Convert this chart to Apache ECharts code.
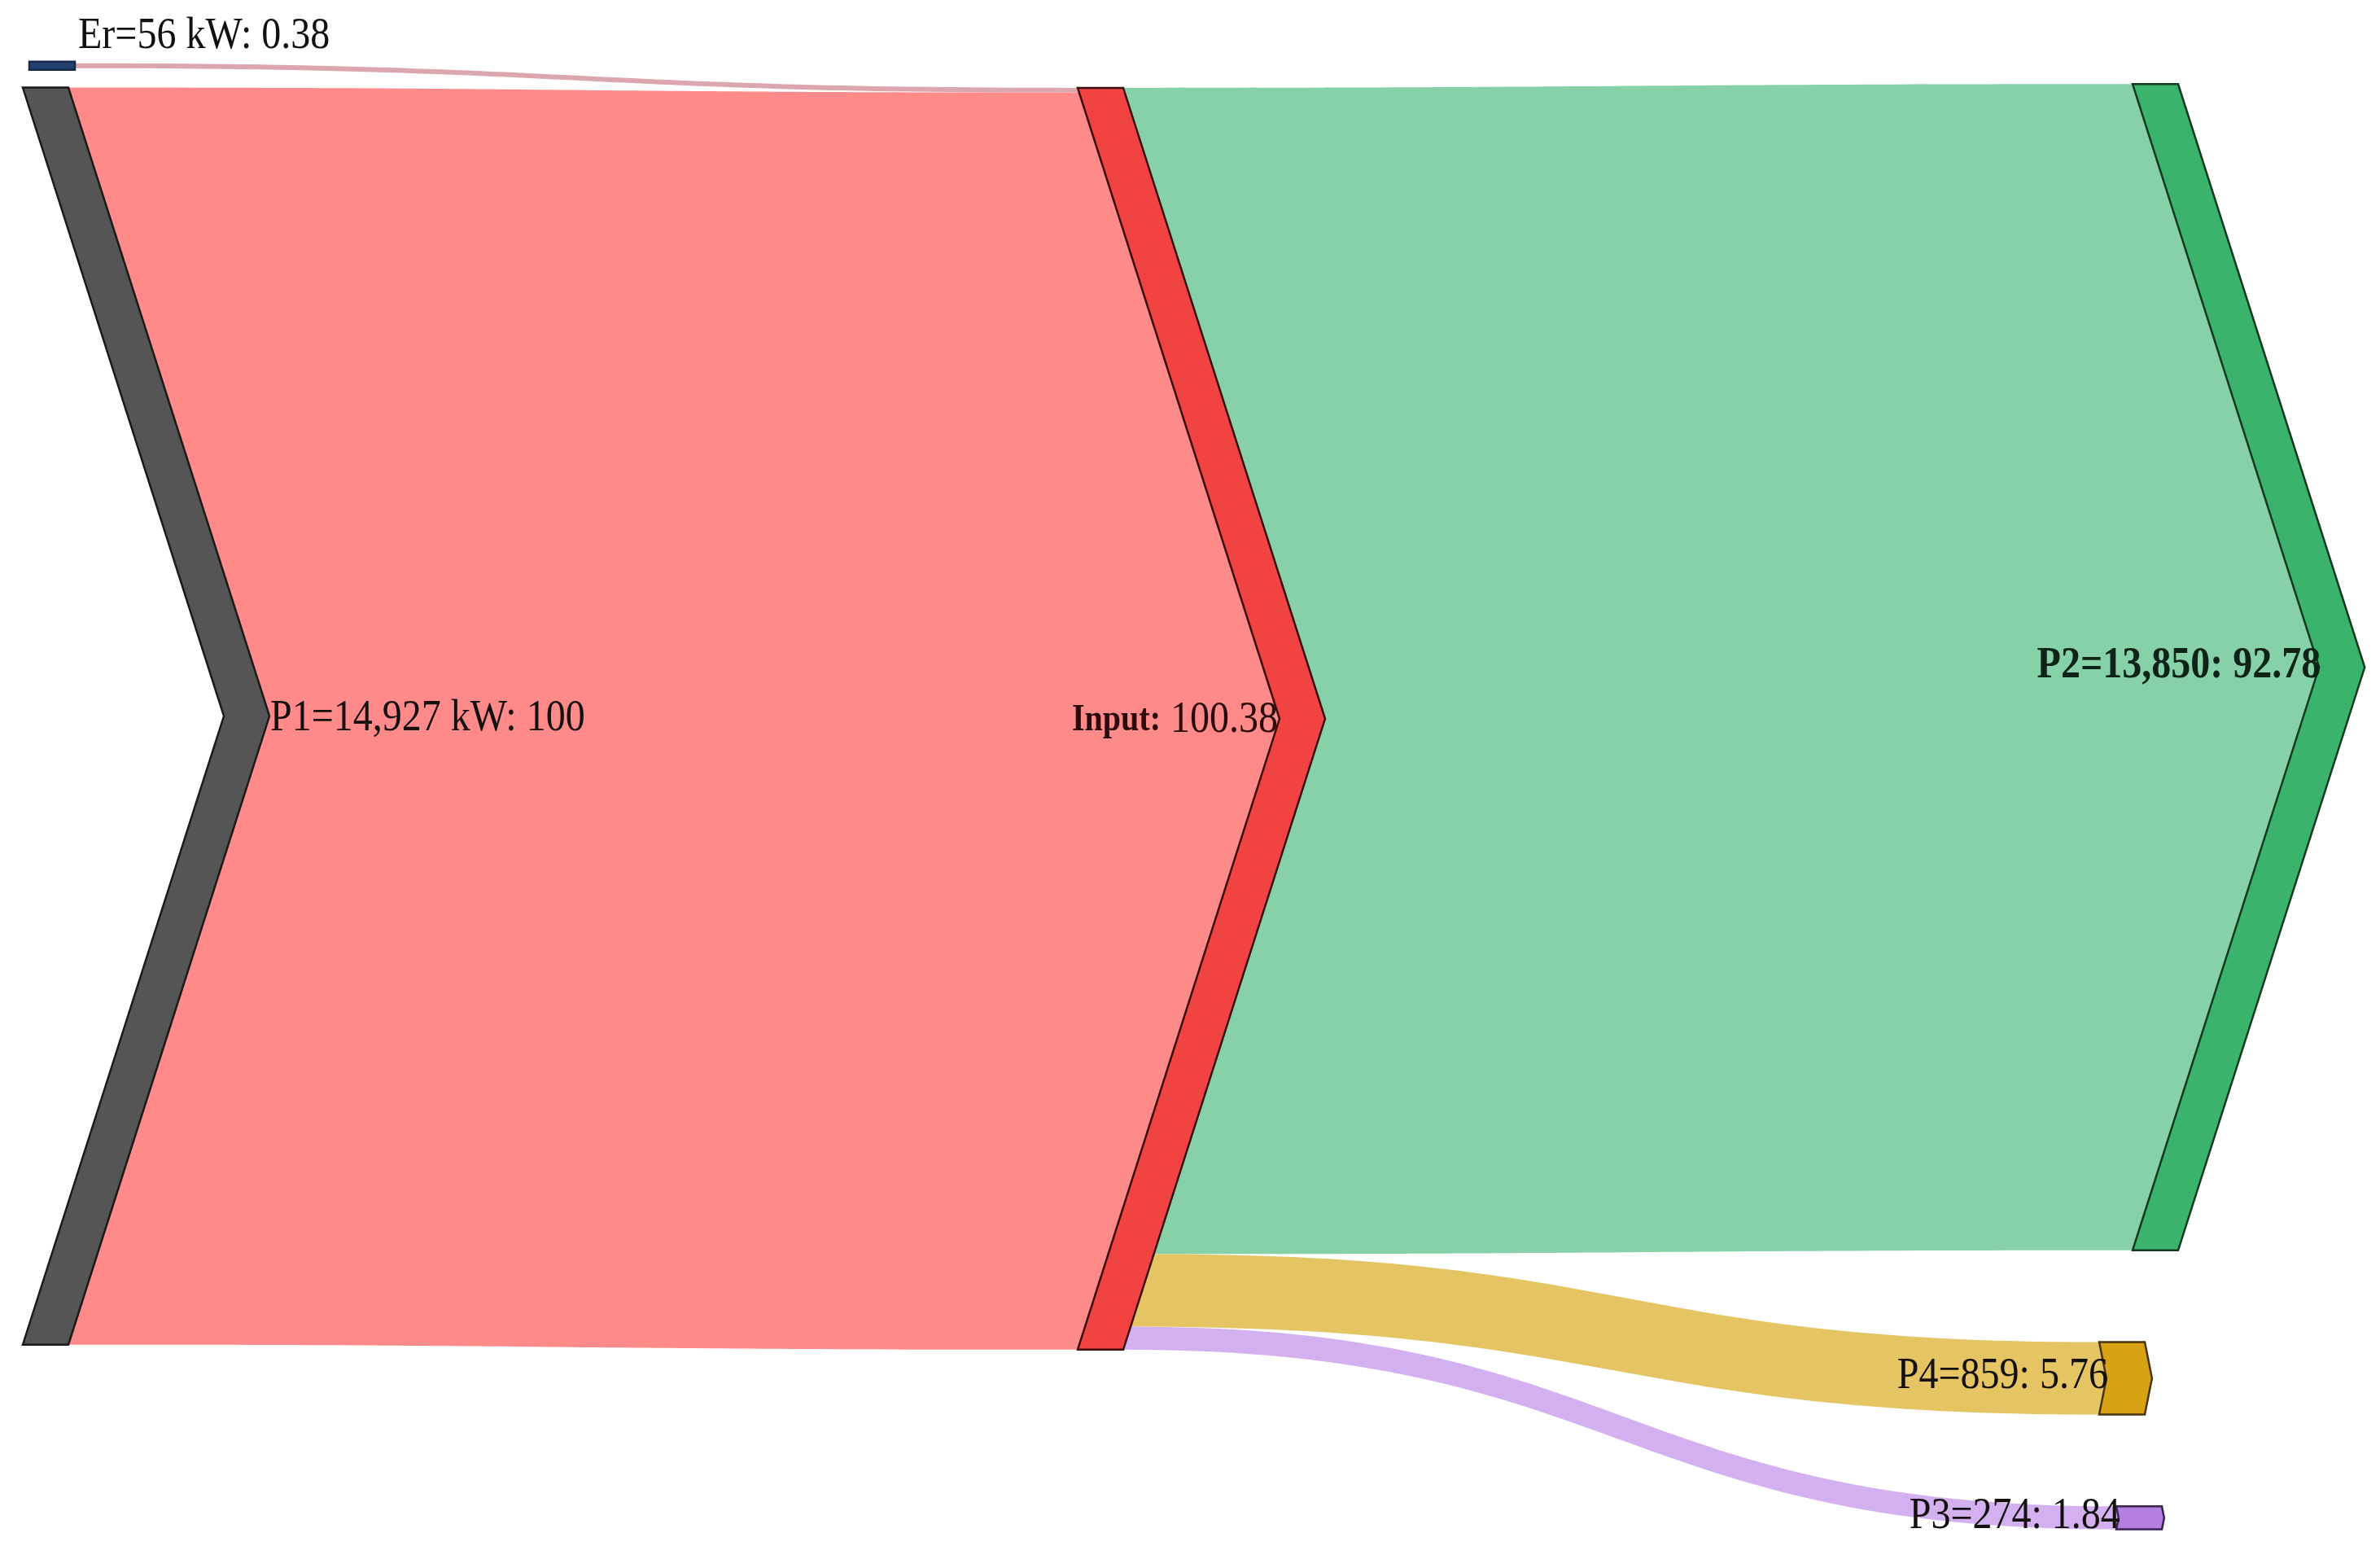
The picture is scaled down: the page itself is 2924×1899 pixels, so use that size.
<!DOCTYPE html>
<html>
<head>
<meta charset="utf-8">
<script src="https://cdn.jsdelivr.net/npm/echarts@6/dist/echarts.min.js"></script>
<style>
  html, body { margin: 0; background: #fff; }
  #chart { width: 2924px; height: 1899px; }
</style>
</head>
<body>
<div id="chart"></div>
<script>
// flows (percent of P1)
const nodeNames = ['Er', 'P1', 'Input', 'P2', 'P4', 'P3']
const nodeTitles = ['Er=56 kW', 'P1=14,927 kW', 'Input', 'P2=13,850', 'P4=859', 'P3=274']
const nodeColumns = [0, 0, 1, 2, 2, 2]
const linkSources = ['Er', 'P1', 'Input', 'Input', 'Input']
const linkTargets = ['Input', 'Input', 'P2', 'P4', 'P3']
const linkValues = [0.38, 100, 92.78, 5.76, 1.84]

// look
const nodeColors = { Er: '#23426f', P1: '#555555', Input: '#f24343', P2: '#3bb36d', P4: '#d8a215', P3: '#b47ee0' }
const nodeStrokes = { Er: '#15284a', P1: '#1a1a1a', Input: '#3a0c0c', P2: '#123a20', P4: '#4a3410', P3: '#3a2250' }
const linkColors = ['#dca6ae', '#fe8a8a', '#87d1a8', '#e4c463', '#d3b1f1']
const depthFactor = { Er: 0, P4: 0.1, P3: 0.1 }
const nodeShift = { Er: 8, P4: -41, P3: -20 }
const colStart = [-1.95, 0, -0.3]
const colGap = [1.55, 0, 7.3]
const NODE_W = 56
const FONT = '"Liberation Serif", "Times New Roman", serif'
const TEXT_STRETCH = 1.14

// layout in flow units
const nodeValue = {}
nodeNames.forEach(function (n) {
    let inV = 0, outV = 0
    linkValues.forEach(function (v, i) {
        if (linkTargets[i] == n) inV += v
        if (linkSources[i] == n) outV += v
    })
    nodeValue[n] = Math.round(Math.max(inV, outV) * 100) / 100
})
const nodeTop = {}
const cursor = colStart.slice()
nodeNames.forEach(function (n, i) {
    const c = nodeColumns[i]
    nodeTop[n] = cursor[c]
    cursor[c] += nodeValue[n] + colGap[c]
})
const outOff = {}, inOff = {}
nodeNames.forEach(function (n) { outOff[n] = 0; inOff[n] = 0 })
const linkRows = linkValues.map(function (v, i) {
    const s = nodeNames.indexOf(linkSources[i]), t = nodeNames.indexOf(linkTargets[i])
    const row = [nodeColumns[s], nodeTop[nodeNames[s]] + outOff[nodeNames[s]], nodeColumns[t], nodeTop[nodeNames[t]] + inOff[nodeNames[t]], v, s, t]
    outOff[nodeNames[s]] += v
    inOff[nodeNames[t]] += v
    return row
})
const nodeRows = nodeNames.map(function (n, i) { return [nodeColumns[i], nodeTop[n], nodeValue[n], i] })

function geom(api, idx) {
    const n = nodeNames[idx]
    const c = nodeColumns[idx]
    const p0 = api.coord([c, nodeTop[n]])
    const p1 = api.coord([c, nodeTop[n] + nodeValue[n]])
    const h = p1[1] - p0[1]
    const f = depthFactor[n] !== undefined ? depthFactor[n] : 0.16
    return { x: p0[0] + (nodeShift[n] || 0), t: p0[1], b: p1[1], m: (p0[1] + p1[1]) / 2, h: h, d: h * f }
}
function edgeX(g, y, right) {
    const k = g.h > 0 ? Math.max(0, 1 - Math.abs(y - g.m) / (g.h / 2)) : 0
    return g.x + (right ? NODE_W : 0) + g.d * k
}

function renderLink(params, api) {
    const gs = geom(api, api.value(5))
    const gt = geom(api, api.value(6))
    const v = api.value(4)
    const ys0 = api.coord([api.value(0), api.value(1)])[1]
    const ys1 = api.coord([api.value(0), api.value(1) + v])[1]
    const yt0 = api.coord([api.value(2), api.value(3)])[1]
    const yt1 = api.coord([api.value(2), api.value(3) + v])[1]
    const ax = edgeX(gs, ys0, true), bx = edgeX(gt, yt0, false)
    const cx = edgeX(gt, yt1, false), dx = edgeX(gs, ys1, true)
    const m1 = (ax + bx) / 2, m2 = (cx + dx) / 2
    let p = 'M' + ax + ',' + ys0 + ' C' + m1 + ',' + ys0 + ' ' + m1 + ',' + yt0 + ' ' + bx + ',' + yt0
    if (gt.m > yt0 && gt.m < yt1) p += ' L' + (gt.x + gt.d) + ',' + gt.m
    p += ' L' + cx + ',' + yt1 + ' C' + m2 + ',' + yt1 + ' ' + m2 + ',' + ys1 + ' ' + dx + ',' + ys1
    if (gs.m > ys0 && gs.m < ys1) p += ' L' + (gs.x + NODE_W + gs.d) + ',' + gs.m
    p += ' Z'
    return {
        type: 'path',
        shape: { pathData: p },
        style: { fill: linkColors[params.dataIndex], stroke: null },
    }
}

function fmt(v) {
    return String(Math.round(v * 100) / 100)
}

function renderNode(params, api) {
    const idx = api.value(3)
    const n = nodeNames[idx]
    const g = geom(api, idx)
    // Er is a hair-thin bar, keep it visible
    const t = g.h < 10 ? g.m - 5 : g.t
    const b = g.h < 10 ? g.m + 5 : g.b
    const pts = [
        [g.x, t], [g.x + NODE_W, t], [g.x + NODE_W + g.d, g.m],
        [g.x + NODE_W, b], [g.x, b], [g.x + g.d, g.m],
    ]
    const label = { x: 0, y: 0, fontFamily: FONT, fontSize: 48, fill: '#151010', verticalAlign: 'middle' }
    let lx, ly
    if (n == 'Er') {
        label.text = nodeTitles[idx] + ': ' + fmt(api.value(2))
        lx = g.x + NODE_W + 4
        ly = g.t - 33
        label.align = 'left'
    } else if (nodeColumns[idx] == 0) {
        label.text = nodeTitles[idx] + ': ' + fmt(api.value(2))
        lx = g.x + NODE_W + g.d + 1
        ly = g.m + 3
        label.align = 'left'
    } else if (n == 'Input') {
        label.text = '{b|' + nodeTitles[idx] + ':} {n|' + fmt(api.value(2)) + '}'
        label.rich = {
            b: { fontFamily: FONT, fontSize: 40, fontWeight: 'bold', fill: '#2a0a0a' },
            n: { fontFamily: FONT, fontSize: 48, fill: '#2a0a0a' },
        }
        lx = g.x + g.d - 2
        ly = g.m + 2
        label.align = 'right'
    } else {
        label.text = nodeTitles[idx] + ': ' + fmt(api.value(2))
        lx = g.x + g.d + 2
        ly = g.m - 2
        label.align = 'right'
        if (n == 'P2') {
            label.fontWeight = 'bold'
            label.fill = '#0e2416'
        }
    }
    return {
        type: 'group',
        children: [
            {
                type: 'polygon',
                shape: { points: pts },
                style: { fill: nodeColors[n], stroke: nodeStrokes[n], lineWidth: 2.5, lineJoin: 'miter' },
            },
            { type: 'text', z2: 10, x: lx, y: ly, scaleY: TEXT_STRETCH, style: label },
        ],
    }
}

var myChart = echarts.init(document.getElementById('chart'))
var option = {
    backgroundColor: '#ffffff',
    animation: false,
    grid: { left: 28, right: 304, top: 77, bottom: 0 },
    xAxis: { type: 'value', min: 0, max: 2, show: false },
    yAxis: { type: 'value', min: -2, max: 116, inverse: true, show: false },
    series: [
        {
            type: 'custom',
            name: 'links',
            clip: false,
            silent: true,
            encode: { x: 0, y: 1 },
            renderItem: renderLink,
            data: linkRows,
        },
        {
            type: 'custom',
            name: 'nodes',
            clip: false,
            silent: true,
            encode: { x: 0, y: 1 },
            renderItem: renderNode,
            data: nodeRows,
        },
    ],
}
myChart.setOption(option)
</script>
</body>
</html>
